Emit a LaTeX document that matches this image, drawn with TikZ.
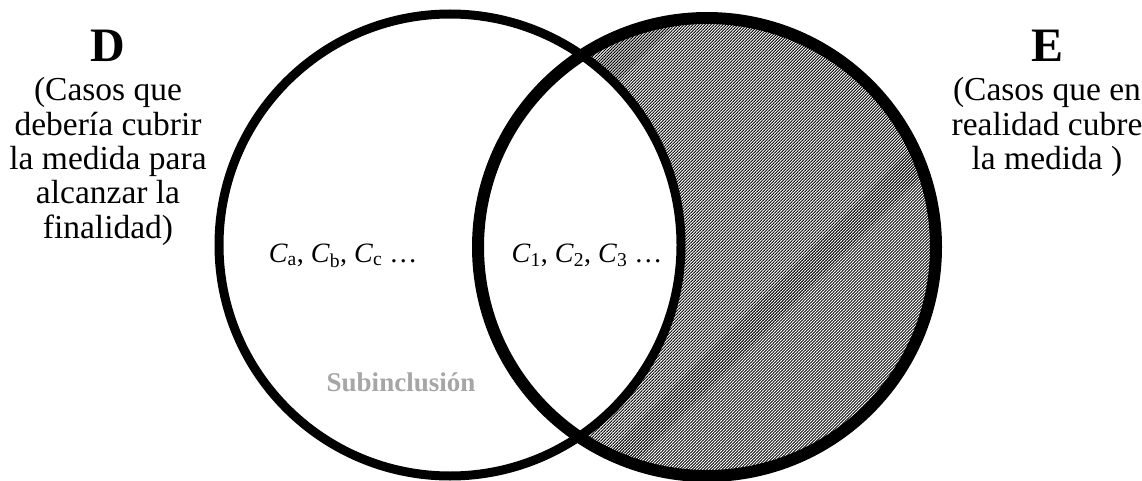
\documentclass[tikz,border=0pt]{standalone}
\usepackage{fontspec}
\setmainfont{Liberation Serif}
\usetikzlibrary{patterns.meta}
\definecolor{subgray}{HTML}{A6A6A6}
\tikzset{
  lbl/.style={anchor=base, inner sep=0pt, font=\fontsize{33.5}{34}\selectfont},
  big/.style={anchor=base, inner sep=0pt, font=\fontsize{48}{50}\selectfont\bfseries},
  elem/.style={anchor=base, inner sep=0pt, font=\fontsize{28}{30}\selectfont},
  hatch/.style={pattern={Lines[angle=45,distance=2.12pt,line width=0.9pt]}},
}
\begin{document}
\begin{tikzpicture}[x=1pt,y=-1pt]
\useasboundingbox (0,0) rectangle (1142,481);
\coordinate (cD) at (450,245);
\coordinate (cE) at (707,247);
\fill[hatch] (cE) circle[radius=229];
\fill[white] (cD) circle[radius=231];
\draw[line width=9pt] (cD) circle[radius=231];
\draw[line width=12pt] (cE) circle[radius=229];

\node[big] (D) at (108,62) {D};
\node[lbl] (D1) at (108,101) {(Casos que};
\node[lbl] (D2) at (108,136) {debería cubrir};
\node[lbl] (D3) at (108,170) {la medida para};
\node[lbl] (D4) at (108,204) {alcanzar la};
\node[lbl] (D5) at (108,238) {finalidad)};

\node[big] (E) at (1047,62) {E};
\node[lbl] (E1) at (1047,101) {(Casos que en};
\node[lbl] (E2) at (1047,136) {realidad cubre};
\node[lbl] (E3) at (1047,170) {la medida )};

\node[elem] (Ca) at (343,262) {\textit{C}\textsubscript{a}, \textit{C}\textsubscript{b}, \textit{C}\textsubscript{c} \dots};
\node[elem] (C1) at (587,262) {\textit{C}\textsubscript{1}, \textit{C}\textsubscript{2}, \textit{C}\textsubscript{3} \dots};
\node[anchor=base, inner sep=0pt, font=\fontsize{27}{28}\selectfont\bfseries, text=subgray] (S) at (401,391) {Subinclusión};
\end{tikzpicture}
\end{document}
